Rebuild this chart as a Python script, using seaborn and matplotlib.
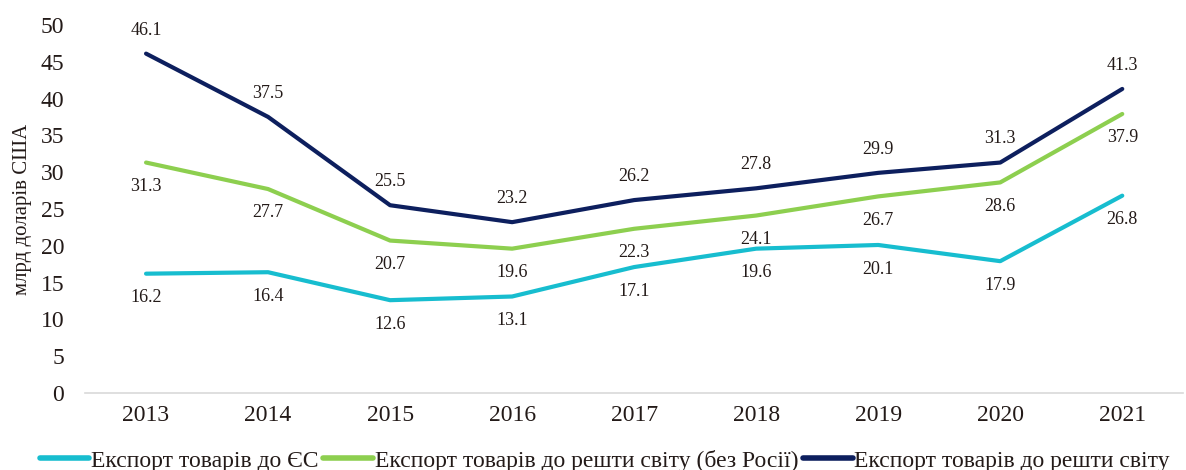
import matplotlib
matplotlib.use("Agg")
import matplotlib.pyplot as plt
import seaborn as sns
import pandas as pd

# data
years = ["2013", "2014", "2015", "2016", "2017", "2018", "2019", "2020", "2021"]
export_eu = [16.2, 16.4, 12.6, 13.1, 17.1, 19.6, 20.1, 17.9, 26.8]
export_world_no_ru = [31.3, 27.7, 20.7, 19.6, 22.3, 24.1, 26.7, 28.6, 37.9]
export_world = [46.1, 37.5, 25.5, 23.2, 26.2, 27.8, 29.9, 31.3, 41.3]
series_names = ["Експорт товарів до ЄС",
                "Експорт товарів до решти світу (без Росії)",
                "Експорт товарів до решти світу"]
colors = ["#17BDCF", "#8DCF4F", "#0D1F5E"]

df = pd.DataFrame({
    "year": years * 3,
    "value": export_eu + export_world_no_ru + export_world,
    "series": [series_names[0]] * 9 + [series_names[1]] * 9 + [series_names[2]] * 9,
})
df["x"] = list(range(9)) * 3

sns.set_style("white")
plt.rcParams["font.family"] = ["Liberation Serif", "DejaVu Serif"]

fig = plt.figure(figsize=(11.86, 4.70), dpi=100)
ax = fig.add_axes([0.0717, 0.164, 0.926, 0.783])

sns.lineplot(data=df, x="x", y="value", hue="series", hue_order=series_names,
             palette=colors, linewidth=3, ax=ax, legend=False)

# value labels: navy above, others below
txt = "#231a18"
for i in range(9):
    ax.annotate(f"{export_world[i]}", (i, export_world[i]), xytext=(0, 17),
                textcoords="offset points", ha="center", va="center", fontsize=13, color=txt)
    ax.annotate(f"{export_world_no_ru[i]}", (i, export_world_no_ru[i]), xytext=(0, -17),
                textcoords="offset points", ha="center", va="center", fontsize=13, color=txt)
    ax.annotate(f"{export_eu[i]}", (i, export_eu[i]), xytext=(0, -17.5),
                textcoords="offset points", ha="center", va="center", fontsize=13, color=txt)

ax.set_xlim(-0.5, 8.5)
ax.set_ylim(0, 50)
ax.set_yticks(range(0, 51, 5))
ax.set_xticks(range(9))
ax.set_xticklabels(years)
ax.tick_params(axis="both", length=0, labelsize=17, colors=txt)
ax.tick_params(axis="y", pad=15)
ax.tick_params(axis="x", pad=9)
ax.set_xlabel("")
ax.set_ylabel("млрд доларів США", fontsize=15, color=txt, labelpad=6)
for s in ["top", "right", "left"]:
    ax.spines[s].set_visible(False)
ax.spines["bottom"].set_color("#d9d9d9")
ax.spines["bottom"].set_linewidth(1.2)

handles = [plt.Line2D([], [], color=c, linewidth=4) for c in colors]
fig.legend(handles, series_names, loc="center", bbox_to_anchor=(0.51, 0.02),
           ncol=3, frameon=False, fontsize=17, handlelength=2.1,
           handletextpad=0.08, columnspacing=0.2, labelcolor=txt)

fig.savefig("out.png", dpi=100)
